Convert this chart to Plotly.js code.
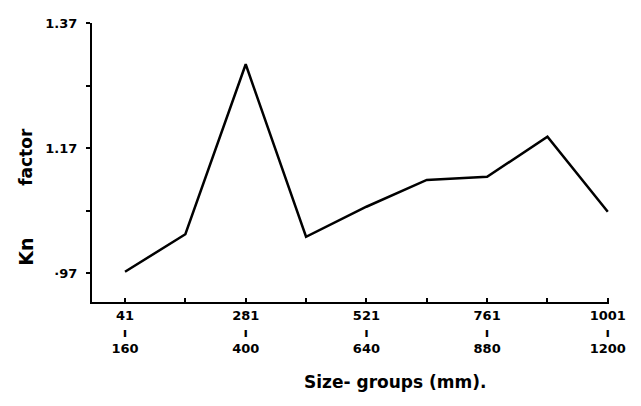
<!DOCTYPE html>
<html><head><meta charset="utf-8">
<script src="https://cdn.plot.ly/plotly-3.0.1.min.js"></script>
<style>body{margin:0;background:#fff}#c{width:641px;height:406px}</style>
</head><body><div id="c"></div>
<script>
const categories = ["41-160","161-280","281-400","401-520","521-640","641-760","761-880","881-1000","1001-1200"];
const knValues = [0.972, 1.032, 1.304, 1.028, 1.076, 1.119, 1.124, 1.188, 1.068];
const xTickText = ["41<br>ı<br>160","","281<br>ı<br>400","","521<br>ı<br>640","","761<br>ı<br>880","","1001<br>ı<br>1200"];
const yTickVals = [0.97, 1.07, 1.17, 1.27, 1.37];
const yTickText = ["·97", "", "1.17", "", "1.37"];

const idx = categories.map((c,i)=>i);
const tf = {family:"DejaVu Sans, sans-serif", size:13, color:"#000", weight:"bold"};
Plotly.newPlot("c", [{
  x: idx, y: knValues, type:"scatter", mode:"lines",
  line:{color:"#000", width:2.5}, text: categories, hoverinfo:"text+y"
}], {
  width:641, height:406,
  margin:{l:92, r:32, t:23, b:104},
  paper_bgcolor:"#fff", plot_bgcolor:"#fff",
  showlegend:false,
  xaxis:{range:[-0.547, 8.02], tickmode:"array", tickvals: idx, ticktext: xTickText,
    ticks:"inside", ticklen:4, tickwidth:2, tickcolor:"#000", showgrid:false, zeroline:false,
    showline:true, linewidth:2, linecolor:"#000", tickfont:tf},
  yaxis:{range:[0.9236, 1.37], tickmode:"array", tickvals:yTickVals, ticktext:yTickText,
    ticks:"outside", ticklen:4, tickwidth:2, tickcolor:"#000", showgrid:false, zeroline:false,
    ticklabelstandoff:6,
    showline:true, linewidth:2, linecolor:"#000", tickfont:tf},
  annotations:[
    {text:"Size- groups (mm).", xref:"paper", yref:"paper", x:0.586, y:-0.287, xanchor:"center", yanchor:"middle",
     showarrow:false, font:{family:"DejaVu Sans, sans-serif", size:17, color:"#000", weight:"bold"}},
    {text:"Kn", xref:"paper", yref:"paper", x:-0.128, y:(302-252)/279, xanchor:"center", yanchor:"middle",
     textangle:-90, showarrow:false, font:{family:"DejaVu Sans, sans-serif", size:19, color:"#000", weight:"bold"}},
    {text:"factor", xref:"paper", yref:"paper", x:-0.128, y:(302-157)/279, xanchor:"center", yanchor:"middle",
     textangle:-90, showarrow:false, font:{family:"DejaVu Sans, sans-serif", size:17, color:"#000", weight:"bold"}}
  ]
}, {staticPlot:true});
</script>
</body></html>
